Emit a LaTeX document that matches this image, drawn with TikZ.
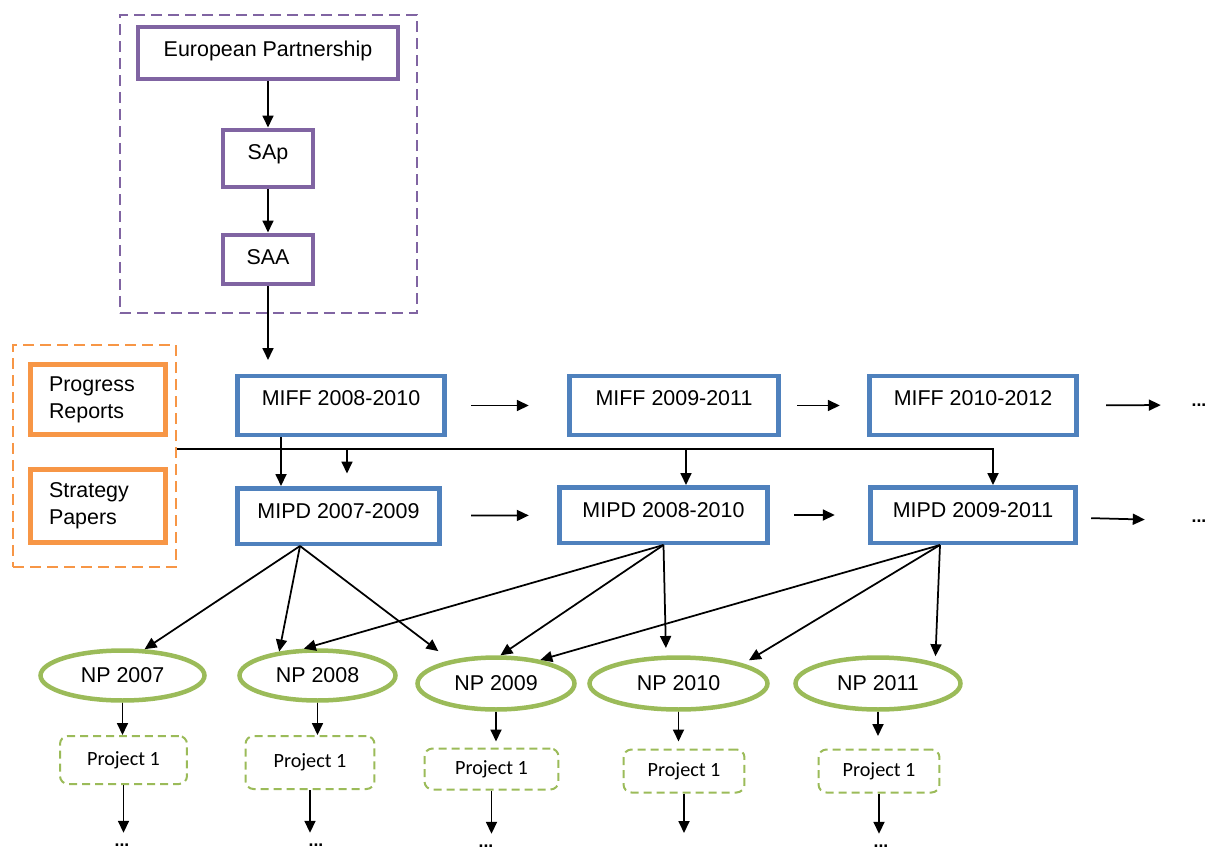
\documentclass[tikz,border=0pt]{standalone}
\usepackage{fontspec}
\setmainfont{Liberation Sans}
\newfontfamily\projfont{Carlito}
\usetikzlibrary{arrows.meta}
\usetikzlibrary{shapes.geometric}

\definecolor{purp}{HTML}{8064A2}
\definecolor{bluebd}{HTML}{4F81BD}
\definecolor{orng}{HTML}{F79646}
\definecolor{grn}{HTML}{9BBB59}

\begin{document}
\begin{tikzpicture}[x=0.02cm, y=-0.02cm,
	every node/.style={font=\fontsize{12.2}{14.6}\selectfont, inner sep=0pt},
	tbox/.style={draw, line width=0.09cm, text height=0.6cm},
	purpbox/.style={tbox, draw=purp},
	bluebox/.style={tbox, draw=bluebd},
	repbox/.style={draw=orng, line width=0.09cm, minimum width=2.7cm, inner xsep=0.37cm,
		text width=1.96cm, align=left, font=\fontsize{12.2}{15.3}\selectfont},
	npell/.style={ellipse, draw=grn, line width=0.09cm, minimum height=1.0cm},
	projbox/.style={draw=grn, line width=0.04cm, dash pattern=on 0.16cm off 0.1cm,
		rounded corners=0.16cm, font=\projfont\fontsize{11.5}{13}\selectfont},
	grpbox/.style={line width=0.04cm, dash pattern=on 0.22cm off 0.12cm},
	arr/.style={-{Triangle[length=0.24cm,width=0.22cm]}, line width=0.035cm},
	more/.style={font=\bfseries\fontsize{10}{12}\selectfont, inner sep=6pt}]
	\useasboundingbox (0,0) rectangle (1207,852);
	
	% groups
	\node[grpbox, draw=purp, minimum width=5.94cm, minimum height=5.96cm] (grpEU) at (268.5,164) {};
	\node[grpbox, draw=orng, minimum width=3.26cm, minimum height=4.44cm] (grpRep) at (94.5,456) {};
	
	\node[purpbox, minimum width=5.2cm, text depth=0.45cm] (ep) at (268,53) {European Partnership};
	\node[purpbox, minimum width=1.8cm, text depth=0.55cm] (sap) at (268,158.5) {SAp};
	\node[purpbox, minimum width=1.8cm, text depth=0.39cm] (saa) at (268,259.5) {SAA};
	
	\node[repbox, minimum height=1.4cm] (prog) at (98,399.5) {Progress\\Reports};
	\node[repbox, minimum height=1.46cm] (strat) at (98,506) {Strategy\\Papers};
	
	\node[bluebox, minimum width=4.14cm, text depth=0.59cm] (miffA) at (341,405.5) {MIFF 2008-2010};
	\node[bluebox, minimum width=4.18cm, text depth=0.59cm] (miffB) at (674,405.5) {MIFF 2009-2011};
	\node[bluebox, minimum width=4.14cm, text depth=0.59cm] (miffC) at (973,405.5) {MIFF 2010-2012};
	\node[more] (dotsF) at (1199,405) {...};
	
	\node[bluebox, minimum width=4.04cm, text depth=0.51cm] (mipdA) at (338.5,516) {MIPD 2007-2009};
	\node[bluebox, minimum width=4.16cm, text depth=0.51cm] (mipdB) at (663.5,515) {MIPD 2008-2010};
	\node[bluebox, minimum width=4.1cm, text depth=0.51cm] (mipdC) at (973,515) {MIPD 2009-2011};
	\node[more] (dotsG) at (1199,521) {...};
	
	\node[npell, minimum width=3.28cm] (npA) at (122.5,675.5) {NP 2007};
	\node[npell, minimum width=3.12cm] (npB) at (317.5,675.5) {NP 2008};
	\node[npell, minimum width=3.14cm, minimum height=1.04cm] (npC) at (496,683.5) {NP 2009};
	\node[npell, minimum width=3.56cm, minimum height=1.04cm] (npD) at (678.5,683.5) {NP 2010};
	\node[npell, minimum width=3.3cm, minimum height=1.04cm] (npE) at (878,683.5) {NP 2011};
	
	\node[projbox, minimum width=2.54cm, minimum height=0.96cm] (prA) at (123.5,760) {Project 1};
	\node[projbox, minimum width=2.58cm, minimum height=1.06cm] (prB) at (310,762.5) {Project 1};
	\node[projbox, minimum width=2.68cm, minimum height=0.82cm] (prC) at (491.5,769) {Project 1};
	\node[projbox, minimum width=2.42cm, minimum height=0.86cm] (prD) at (684,771) {Project 1};
	\node[projbox, minimum width=2.42cm, minimum height=0.86cm] (prE) at (879,771) {Project 1};
	
	\node[more] (dotsA) at (122,845) {...};
	\node[more] (dotsB) at (316,845) {...};
	\node[more] (dotsC) at (486,846) {...};
	\node[more] (dotsE) at (881,846) {...};
	
	\coordinate (miffIn) at (268,360);
	\coordinate (bus) at (0,449);
	\coordinate (endD) at (684,833);
	\coordinate (tapA) at ([xshift=-1.2cm]miffA.south);
	\coordinate (dropA) at ([xshift=0.17cm]mipdA.north);
	\coordinate (dropB) at ([xshift=0.45cm]mipdB.north);
	\coordinate (dropC) at ([xshift=0.4cm]mipdC.north);
	\coordinate (fanA) at ([xshift=-0.77cm]mipdA.south);
	\coordinate (fanC) at ([xshift=-0.66cm]mipdC.south);
	
	% top column
	\draw[arr] (ep) -- (sap);
	\draw[arr] (sap) -- (saa);
	\draw[arr] (saa) -- (miffIn);
	
	% rows
	\draw[arr, shorten <=0.49cm, shorten >=0.77cm] (miffA) -- (miffB);
	\draw[arr, shorten <=0.33cm, shorten >=0.55cm] (miffB) -- (miffC);
	\draw[arr, shorten <=0.55cm, shorten >=0.4cm] (miffC) -- (dotsF);
	\draw[arr, shorten <=0.59cm, shorten >=0.57cm] (mipdA) -- (mipdB);
	\draw[arr, shorten <=0.49cm, shorten >=0.67cm] (mipdB) -- (mipdC);
	\draw[arr, shorten <=0.27cm, shorten >=0.72cm] (mipdC) -- (dotsG);
	
	% reports feed
	\draw[arr] (tapA) -- (tapA |- mipdA.north);
	\draw[arr] (grpRep.east |- bus) -| (dropC);
	\draw[arr, shorten >=0.25cm] (dropA |- bus) -- (dropA);
	\draw[arr] (dropB |- bus) -- (dropB);
	
	% plans to programmes
	\draw[arr] (fanA) -- (npA.50);
	\draw[arr] (fanA) -- (npB.148);
	\draw[arr, shorten >=0.3cm] (fanA) -- (npC.153);
	\draw[arr] (mipdB.south) -- (npB.117);
	\draw[arr] (mipdB.south) -- (npC.81);
	\draw[arr, shorten >=0.15cm] (mipdB.south) -- (npD.114);
	\draw[arr] (fanC) -- (npC.28);
	\draw[arr, shorten >=0.13cm] (fanC) -- (npD.17);
	\draw[arr, shorten >=0.13cm] (fanC) -- (npE.20);
	
	% projects
	\draw[arr] (npA.south) -- (npA.south |- prA.north);
	\draw[arr] (npB.south) -- (npB.south |- prB.north);
	\draw[arr, shorten >=0.12cm] (npC.south) -- (npC.south |- prC.north);
	\draw[arr, shorten >=0.14cm] (npD.south) -- (npD.south |- prD.north);
	\draw[arr, shorten >=0.25cm] (npE.south) -- (npE.south |- prE.north);
	
	\draw[arr] (prA.south) -- (prA.south |- dotsA.north);
	\draw[arr] (prB.south) -- (prB.south |- dotsB.north);
	\draw[arr] (prC.south) -- (prC.south |- dotsC.north);
	\draw[arr] (prD.south) -- (prD.south |- endD);
	\draw[arr] (prE.south) -- (prE.south |- dotsE.north);
\end{tikzpicture}
\end{document}
